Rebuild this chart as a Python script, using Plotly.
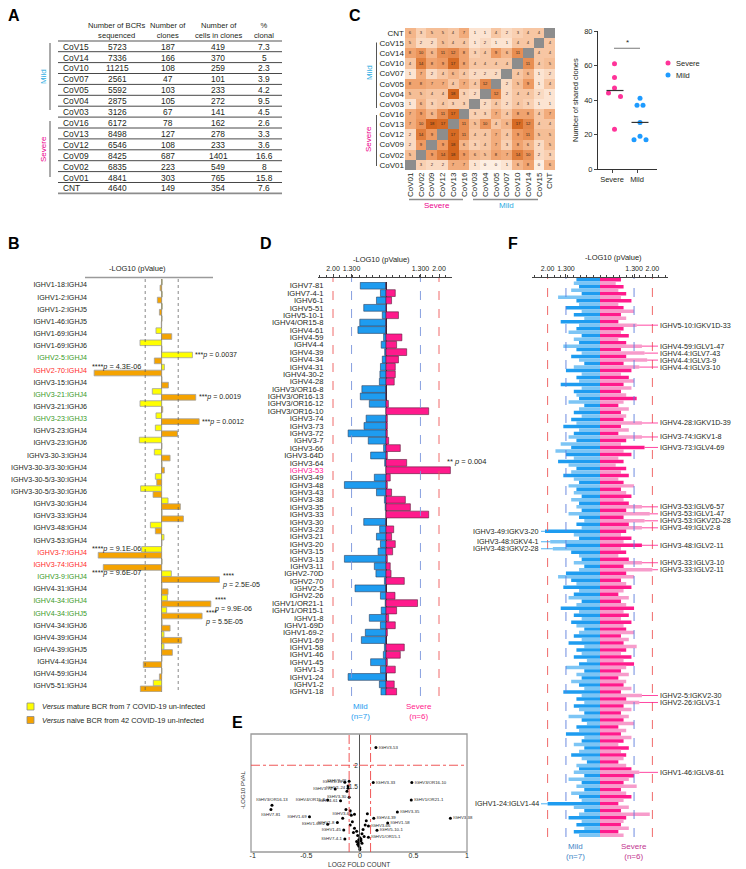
import numpy as np
import plotly.graph_objects as go

# the page adds an 8px body margin, so the figure is drawn 8px smaller and
# reference pixel positions are shifted by that margin
PAGE_W, PAGE_H, PAD = 746, 869, 8
W, H = PAGE_W - PAD, PAGE_H - PAD
FONT = "Liberation Sans, Arial, sans-serif"
INK = "#231f20"
MILD_TXT = "#29abe2"
SEVERE_TXT = "#ec008c"
BLUE = "#1e9cf0"
PINK = "#ff1a8c"

# ---------------- A : table ----------------
a_patients = ["CoV15", "CoV14", "CoV10", "CoV07", "CoV05", "CoV04", "CoV03",
              "CoV16", "CoV13", "CoV12", "CoV09", "CoV02", "CoV01", "CNT"]
a_bcrs = [5723, 7336, 11215, 2561, 5592, 2875, 3126, 6172, 8498, 6546, 8425, 6835, 4841, 4640]
a_clones = [187, 166, 108, 47, 103, 105, 67, 78, 127, 108, 687, 223, 303, 149]
a_cells = [419, 370, 259, 101, 233, 272, 141, 162, 278, 233, 1401, 549, 765, 354]
a_pct = ["7.3", "5", "2.3", "3.9", "4.2", "9.5", "4.5", "2.6", "3.3", "3.6", "16.6", "8", "15.8", "7.6"]
a_headers = ["Number of BCRs<br>sequenced", "Number of<br>clones",
             "Number of<br>cells in clones", "%<br>clonal"]

# ---------------- B : IGHV:IGHJ usage ----------------
b_labels = ["IGHV1-18:IGHJ4", "IGHV1-2:IGHJ4", "IGHV1-2:IGHJ5", "IGHV1-46:IGHJ5",
            "IGHV1-69:IGHJ4", "IGHV1-69:IGHJ6", "IGHV2-5:IGHJ4", "IGHV2-70:IGHJ4",
            "IGHV3-15:IGHJ4", "IGHV3-21:IGHJ4", "IGHV3-21:IGHJ6", "IGHV3-23:IGHJ3",
            "IGHV3-23:IGHJ4", "IGHV3-23:IGHJ6", "IGHV3-30-3:IGHJ4", "IGHV3-30-3/3-30:IGHJ4",
            "IGHV3-30-5/3-30:IGHJ4", "IGHV3-30-5/3-30:IGHJ6", "IGHV3-30:IGHJ4", "IGHV3-33:IGHJ4",
            "IGHV3-48:IGHJ4", "IGHV3-53:IGHJ4", "IGHV3-7:IGHJ4", "IGHV3-74:IGHJ4",
            "IGHV3-9:IGHJ4", "IGHV4-31:IGHJ4", "IGHV4-34:IGHJ4", "IGHV4-34:IGHJ5",
            "IGHV4-34:IGHJ6", "IGHV4-39:IGHJ4", "IGHV4-39:IGHJ5", "IGHV4-4:IGHJ4",
            "IGHV4-59:IGHJ4", "IGHV5-51:IGHJ4"]
b_green = ["IGHV2-5:IGHJ4", "IGHV3-21:IGHJ4", "IGHV3-23:IGHJ3", "IGHV3-9:IGHJ4",
           "IGHV4-34:IGHJ4", "IGHV4-34:IGHJ5"]
b_red = ["IGHV2-70:IGHJ4", "IGHV3-7:IGHJ4", "IGHV3-74:IGHJ4"]
b_mature = [0.05, 0.05, 0.05, 0.03, -0.45, -1.71, 2.42, 0.21, 0.02, -0.74,
            -1.71, -0.45, -0.5, -1.76, -0.58, 0.03, -0.5, -1.66, 0.5, 0.03,
            -0.89, 0.18, -1.58, 0.03, 0.76, 0.02, 0.45, 0.39, 0.03, 0.18,
            0.18, 0.02, 0.02, -0.66]
b_naive = [-0.13, -0.34, -0.18, -0.03, 0.79, 0.02, -0.58, -5.32, 0.53, 2.68,
           0.08, 2.95, 1.24, 0.02, 0.66, 0.21, -0.39, -0.68, 1.47, 1.71,
           -0.5, 0.02, -5.0, -4.6, 4.55, 0.5, 3.87, 3.18, 0.66, 1.58,
           0.84, -1.45, -0.18, -1.68]
# significance notes
b_sig_right = [("IGHV2-5:IGHJ4", "mature", "***<i>p</i> = 0.0037"),
               ("IGHV3-21:IGHJ4", "naive", "***<i>p</i> = 0.0019"),
               ("IGHV3-23:IGHJ3", "naive", "***<i>p</i> = 0.0012"),
               ("IGHV3-9:IGHJ4", "naive", "****<br><i>p</i> = 2.5E-05"),
               ("IGHV4-34:IGHJ4", "naive", "****<br><i>p</i> = 9.9E-06"),
               ("IGHV4-34:IGHJ5", "naive", "****<br><i>p</i> = 5.5E-05")]
b_sig_left = [("IGHV2-70:IGHJ4", "****<i>p</i> = 4.3E-06"),
              ("IGHV3-7:IGHJ4", "****<i>p</i> = 9.1E-06"),
              ("IGHV3-9:IGHJ4", "****<i>p</i> = 9.6E-07")]

# ---------------- C : shared clones ----------------
c_rows = ["CNT", "CoV15", "CoV14", "CoV10", "CoV07", "CoV05", "CoV04", "CoV03",
          "CoV16", "CoV13", "CoV12", "CoV09", "CoV02", "CoV01"]
c_cols = ["CoV01", "CoV02", "CoV09", "CoV12", "CoV13", "CoV16", "CoV03", "CoV04",
          "CoV05", "CoV07", "CoV10", "CoV14", "CoV15", "CNT"]
c_shared = [
    [6, 3, 5, 5, 4, 7, 1, 1, 4, 2, 3, 4, 4, None],
    [5, 2, 2, 5, 4, 4, 1, 2, 1, 1, 4, 4, None, 4],
    [8, 10, 6, 11, 12, 8, 3, 4, 9, 6, 11, None, 4, 4],
    [4, 14, 8, 9, 17, 8, 4, 4, 4, 4, None, 11, 4, 5],
    [1, 7, 2, 4, 6, 4, 2, 2, 2, None, 4, 6, 1, 2],
    [8, 8, 7, 7, 4, 7, 4, 12, None, 2, 5, 9, 1, 4],
    [5, 5, 4, 4, 18, 3, 2, None, 12, 2, 4, 4, 2, 1],
    [1, 6, 3, 4, 3, 3, None, 2, 4, 2, 4, 3, 1, 1],
    [7, 9, 6, 11, 17, None, 3, 3, 7, 4, 8, 8, 4, 7],
    [7, 10, 18, 17, None, 11, 5, 10, 4, 6, 17, 12, 4, 4],
    [2, 14, 9, None, 17, 11, 4, 4, 7, 4, 9, 11, 5, 5],
    [2, 9, None, 9, 18, 6, 3, 4, 7, 3, 8, 6, 2, 5],
    [5, None, 9, 14, 18, 9, 6, 5, 8, 7, 14, 10, 2, 3],
    [None, 3, 2, 2, 7, 7, 1, 0, 0, 1, 6, 8, 0, 6],
]
c_severe_shared = [61, 53, 47, 44, 42, 23]
c_severe_jitter = [0.1, 0.1, 0.1, -0.14, 0.34, 0.1]
c_mild_shared = [41, 37, 37, 27, 19, 17, 17]
c_mild_jitter = [0.12, 0.0, 0.24, 0.12, 0.12, -0.12, 0.36]

# ---------------- D : IGHV usage mild vs severe ----------------
d_genes = ["IGHV7-81", "IGHV7-4-1", "IGHV6-1", "IGHV5-51", "IGHV5-10-1", "IGHV4/OR15-8",
           "IGHV4-61", "IGHV4-59", "IGHV4-4", "IGHV4-39", "IGHV4-34", "IGHV4-31",
           "IGHV4-30-2", "IGHV4-28", "IGHV3/OR16-8", "IGHV3/OR16-13", "IGHV3/OR16-12",
           "IGHV3/OR16-10", "IGHV3-74", "IGHV3-73", "IGHV3-72", "IGHV3-7", "IGHV3-66",
           "IGHV3-64D", "IGHV3-64", "IGHV3-53", "IGHV3-49", "IGHV3-48", "IGHV3-43",
           "IGHV3-38", "IGHV3-35", "IGHV3-33", "IGHV3-30", "IGHV3-23", "IGHV3-21",
           "IGHV3-20", "IGHV3-15", "IGHV3-13", "IGHV3-11", "IGHV2-70D", "IGHV2-70",
           "IGHV2-5", "IGHV2-26", "IGHV1/OR21-1", "IGHV1/OR15-1", "IGHV1-8", "IGHV1-69D",
           "IGHV1-69-2", "IGHV1-69", "IGHV1-58", "IGHV1-46", "IGHV1-45", "IGHV1-3",
           "IGHV1-24", "IGHV1-2", "IGHV1-18"]
d_mild = [0.97, 0.21, 0.36, 0.84, 0.14, 0.99, 1.06, 0.09, 0.18, 0.05,
          0.14, 0.21, 0.23, 0.25, 0.91, 0.97, 0.63, 0.0, 0.75, 0.83,
          1.43, 0.67, 0.09, 0.58, 0.05, 0.0, 0.44, 1.57, 0.36, 0.06,
          0.03, 0.0, 0.84, 0.24, 0.36, 0.21, 0.30, 1.57, 0.44, 0.38,
          0.06, 1.17, 0.21, 0.03, 0.18, 0.63, 0.21, 0.78, 0.93, 0.06,
          0.10, 0.58, 0.21, 1.43, 0.25, 0.19]
d_severe = [0.0, 0.35, 0.21, 0.02, 0.47, 0.0, 0.0, 0.60, 0.40, 0.78,
            0.47, 0.35, 0.35, 0.31, 0.0, 0.0, 0.09, 1.61, 0.05, 0.05,
            0.05, 0.10, 0.54, 0.05, 0.78, 2.43, 0.16, 0.05, 0.21, 0.73,
            0.92, 1.61, 0.0, 0.29, 0.21, 0.35, 0.25, 0.05, 0.16, 0.19,
            0.69, 0.0, 0.34, 1.19, 0.40, 0.10, 0.35, 0.05, 0.0, 0.69,
            0.54, 0.05, 0.35, 0.0, 0.31, 0.40]
d_highlight = "IGHV3-53"

# ---------------- E : volcano ----------------
e_genes = ["IGHV3-53", "IGHV3-13", "IGHV3-48", "IGHV3-72", "IGHV1-24", "IGHV3-33",
           "IGHV3/OR16-10", "IGHV3-30", "IGHV1/OR21-1", "IGHV4/OR15-8", "IGHV4-61",
           "IGHV3/OR16-13", "IGHV7-81", "IGHV3-35", "IGHV3-38", "IGHV1-69", "IGHV1-8",
           "IGHV1-69-2", "IGHV3-64", "IGHV4-39", "IGHV1-58", "IGHV3-66", "IGHV5-10-1",
           "IGHV1-45", "IGHV7-4-1", "IGHV1/OR15-1",
           "IGHV3-74", "IGHV3-73", "IGHV3-7", "IGHV4-59", "IGHV2-70", "IGHV3-49",
           "IGHV3-43", "IGHV2-5", "IGHV5-51", "IGHV1-46", "IGHV4-4", "IGHV4-34",
           "IGHV4-31", "IGHV4-30-2", "IGHV4-28", "IGHV3/OR16-8", "IGHV3/OR16-12",
           "IGHV3-64D", "IGHV3-23", "IGHV3-21", "IGHV3-20", "IGHV3-15", "IGHV3-11",
           "IGHV2-70D", "IGHV2-26", "IGHV1-69D", "IGHV1-3", "IGHV1-2", "IGHV1-18", "IGHV6-1"]
e_fold = [0.15, -0.14, -0.10, -0.23, -0.11, 0.125, 0.485, -0.10, 0.48, -0.30, -0.18,
          -0.82, -0.83, 0.35, 0.845, -0.47, -0.21, -0.30, -0.05, 0.13, 0.26, 0.08,
          0.16, -0.15, -0.14, 0.08,
          -0.11, -0.12, -0.16, 0.07, 0.06, -0.05, -0.06, -0.09, -0.08, 0.05, 0.03,
          0.02, -0.02, 0.0, -0.01, -0.13, -0.07, -0.09, -0.01, -0.02, 0.01, -0.01,
          0.0, -0.03, 0.04, 0.01, 0.02, -0.01, 0.0, -0.03]
e_pval = [2.41, 1.61, 1.63, 1.45, 1.47, 1.60, 1.60, 1.26, 1.20, 1.20, 1.18,
          1.08, 0.98, 0.92, 0.78, 0.81, 0.68, 0.64, 0.87, 0.78, 0.67, 0.60,
          0.50, 0.51, 0.30, 0.34,
          1.52, 1.40, 0.78, 0.88, 0.72, 0.55, 0.45, 0.95, 0.85, 0.62, 0.52,
          0.42, 0.38, 0.33, 0.28, 0.98, 0.70, 0.62, 0.22, 0.18, 0.26, 0.14,
          0.10, 0.48, 0.36, 0.30, 0.20, 0.16, 0.06, 0.24]
e_labeled = e_genes[:26]

# ---------------- F : IGHV:IGK/LV usage ----------------
f_mild = [0.9, 1.0, 0.8, 1.1, 0.7, 1.6, 0.9, 0.8, 1.3, 0.7, 1.0, 0.6, 1.5, 0.8, 0.9, 1.2, 0.7, 1.0, 0.8, 1.4,
          0.9, 0.7, 1.1, 0.8, 0.6, 1.0, 1.3, 0.7, 0.9, 0.8, 1.5, 0.7, 1.0, 0.9, 0.8, 1.2, 0.6, 0.8, 1.0, 0.7,
          1.1, 0.9, 1.4, 0.8, 1.0, 1.2, 0.9, 1.5, 1.1, 1.7, 1.3, 1.0, 1.6, 1.2, 0.9, 1.1, 1.4, 1.0, 0.8, 1.2,
          0.9, 1.0, 0.7, 1.1, 0.8, 0.9, 0.7, 1.2, 0.8, 0.6, 0.9, 0.7, 2.1, 1.0, 0.8, 1.9, 1.3, 1.8, 1.1, 0.8,
          0.7, 1.0, 0.6, 0.8, 1.3, 1.6, 1.1, 0.9, 1.4, 0.8, 1.0, 1.2, 0.7, 0.9, 1.5, 0.8, 1.0, 0.7, 1.1, 0.9,
          0.6, 0.8, 1.0, 0.7, 1.2, 0.6, 0.9, 0.7, 1.0, 0.5, 0.8, 1.3, 0.6, 0.9, 0.7, 1.1, 0.8, 0.6, 1.4, 0.7,
          0.9, 0.6, 1.0, 0.8, 0.6, 1.2, 0.7, 0.5, 0.9, 0.8, 1.3, 0.6, 0.7, 1.0, 0.6, 0.8, 1.1, 0.7, 0.5, 0.9,
          0.8, 1.0, 0.6, 1.2, 0.7, 0.9, 0.6, 1.1, 0.8, 0.7, 2.0, 1.0, 0.6, 0.8, 1.2, 0.7, 0.9, 0.6, 1.0, 0.8]
f_severe = [0.8, 0.6, 0.9, 0.7, 1.0, 0.8, 1.2, 0.7, 0.9, 1.3, 0.8, 1.0, 0.7, 1.4, 0.9, 0.8, 1.1, 0.7, 1.0, 1.6,
            0.8, 1.7, 1.0, 1.8, 0.9, 1.5, 1.2, 0.8, 1.1, 1.3, 0.9, 1.2, 0.8, 1.0, 1.4, 0.9, 0.7, 1.1, 0.8, 1.0,
            0.9, 1.6, 0.8, 1.1, 0.7, 1.6, 1.0, 0.8, 1.7, 0.9, 1.2, 0.7, 0.9, 0.6, 1.0, 0.8, 1.1, 0.7, 0.9, 1.3,
            0.8, 1.0, 1.2, 0.9, 1.1, 1.6, 1.0, 1.9, 0.9, 1.7, 1.1, 1.6, 1.0, 0.8, 1.2, 0.9, 1.6, 0.8, 1.0, 0.7,
            1.1, 1.6, 0.9, 2.0, 1.0, 1.3, 0.8, 1.0, 1.2, 0.9, 0.7, 1.1, 0.8, 1.0, 1.3, 0.9, 1.1, 0.8, 1.2, 0.9,
            1.0, 1.3, 0.8, 1.1, 0.9, 1.4, 1.0, 0.8, 1.2, 0.9, 1.3, 1.0, 0.8, 1.1, 0.7, 1.0, 0.9, 1.2, 0.8, 1.6,
            1.0, 1.5, 0.9, 1.2, 0.8, 1.1, 0.9, 1.3, 0.7, 1.0, 0.8, 1.2, 0.9, 0.7, 1.1, 0.8, 1.0, 0.9, 0.7, 1.0,
            1.2, 1.5, 1.3, 1.1, 0.9, 1.4, 0.8, 1.0, 1.2, 0.9, 0.7, 1.1, 0.8, 1.9, 1.0, 0.9, 0.8, 1.1, 0.7, 0.9]
f_labels_severe = [("IGHV5-10:IGKV1D-33", 13), ("IGHV4-59:IGLV1-47", 19), ("IGHV4-4:IGLV7-43", 21),
                   ("IGHV4-4:IGLV3-9", 23), ("IGHV4-4:IGLV3-10", 25), ("IGHV4-28:IGKV1D-39", 41),
                   ("IGHV3-74:IGKV1-8", 45), ("IGHV3-73:IGLV4-69", 48), ("IGHV3-53:IGLV6-57", 65),
                   ("IGHV3-53:IGLV1-47", 67), ("IGHV3-53:IGKV2D-28", 69), ("IGHV3-49:IGLV2-8", 71),
                   ("IGHV3-48:IGLV2-11", 76), ("IGHV3-33:IGLV3-10", 81), ("IGHV3-33:IGLV2-11", 83),
                   ("IGHV2-5:IGKV2-30", 119), ("IGHV2-26:IGLV3-1", 121), ("IGHV1-46:IGLV8-61", 141)]
f_labels_mild = [("IGHV3-49:IGKV3-20", 72), ("IGHV3-48:IGKV4-1", 75),
                 ("IGHV3-48:IGKV2-28", 77), ("IGHV1-24:IGLV1-44", 150)]


def fx(p):
    return (p - PAD) / W


def fy(p):
    return 1 - (p - PAD) / H


ann = []
shp = []


def text(x, y, s, size=8, color=INK, xanchor="center", yanchor="middle", **kw):
    ann.append(dict(x=fx(x), y=fy(y), xref="paper", yref="paper", text=s, showarrow=False,
                    font=dict(family=FONT, size=size, color=color),
                    xanchor=xanchor, yanchor=yanchor, **kw))


def line(x0, y0, x1, y1, color, width=1.0, dash=None):
    shp.append(dict(type="line", xref="paper", yref="paper", x0=fx(x0), y0=fy(y0),
                    x1=fx(x1), y1=fy(y1), line=dict(color=color, width=width, dash=dash)))


def blank(**kw):
    d = dict(showgrid=False, zeroline=False, showline=False, ticks="", automargin=False)
    d.update(kw)
    return d


fig = go.Figure()

# ---- panel letters
for letter, x, y in [("A", 14, 15), ("B", 14, 244), ("C", 355, 15), ("D", 266, 244),
                     ("E", 237, 722), ("F", 513, 244)]:
    text(x, y, "<b>%s</b>" % letter, 16, "black")

# ---- A table
col_x = [117, 168, 218, 264]
for cx, h in zip(col_x, a_headers):
    text(cx, 30, h, 7.6)
line(58, 41, 282, 41, "#8c8c8c", 1.6)
for i, p in enumerate(a_patients):
    y = 46.7 + i * 10.9
    text(61, y, p, 8.4, xanchor="left")
    for cx, v in zip(col_x, [a_bcrs[i], a_clones[i], a_cells[i], a_pct[i]]):
        text(cx, y, str(v), 8.4)
    last = i == len(a_patients) - 1
    line(58, y + 5, 282, y + 5, "#8c8c8c" if last else "#333333", 1.6 if last else 0.9)
line(50, 43, 50, 110, "#555555", 1)
line(50, 121, 50, 177, "#555555", 1)
text(43, 77, "Mild", 8, MILD_TXT, textangle=-90)
text(43, 149, "Severe", 8, SEVERE_TXT, textangle=-90)

# ---- B bars
b_zero, b_unit = 161.7, 12.7
b_y = np.arange(len(b_labels))


def b_tick(lbl):
    if lbl in b_green:
        return "<span style='color:#3a9a1f'>%s</span>" % lbl
    if lbl in b_red:
        return "<span style='color:#ff2a2a'>%s</span>" % lbl
    return lbl


fig.add_trace(go.Bar(x=b_mature, y=b_y, orientation="h", offset=-0.47, width=0.46,
                     marker=dict(color="#ffff00", line=dict(color="#a0a0a0", width=0.8)),
                     xaxis="x", yaxis="y", showlegend=False))
fig.add_trace(go.Bar(x=b_naive, y=b_y, orientation="h", offset=0.01, width=0.47,
                     marker=dict(color="#f5a300", line=dict(color="#a0a0a0", width=0.8)),
                     xaxis="x", yaxis="y", showlegend=False))
text(137, 269, "-LOG10 (pValue)", 7.5)
line(85, 277.5, 213, 277.5, "#9a9a9a", 1.5)
for v in (-1.3, 1.3):
    shp.append(dict(type="line", xref="x", yref="paper", x0=v, x1=v, y0=fy(690), y1=fy(279),
                    line=dict(color="#555555", width=0.7, dash="dot")))
for lbl, series, s in b_sig_right:
    i = b_labels.index(lbl)
    v = (b_mature if series == "mature" else b_naive)[i]
    two = "<br>" in s
    ann.append(dict(x=v, y=i, xref="x", yref="y", text=s, showarrow=False, xanchor="left",
                    align="left", xshift=1, yshift=(3 if series == "mature" else -3) - (1 if two else 0),
                    font=dict(family=FONT, size=7.1, color=INK)))
for lbl, s in b_sig_left:
    i = b_labels.index(lbl)
    ann.append(dict(x=-1.5, y=i, xref="x", yref="y", text=s, showarrow=False, xanchor="right",
                    yshift=4, font=dict(family=FONT, size=7.3, color=INK)))
shp.append(dict(type="rect", xref="paper", yref="paper", x0=fx(27), x1=fx(34), y0=fy(710), y1=fy(703),
                fillcolor="#ffff00", line=dict(color="#8c8c8c", width=0.8)))
shp.append(dict(type="rect", xref="paper", yref="paper", x0=fx(27), x1=fx(34), y0=fy(723.5), y1=fy(716.5),
                fillcolor="#f5a300", line=dict(color="#8c8c8c", width=0.8)))
text(40, 706.5, "<i>Versus</i> mature BCR from 7 COVID-19 un-infected", 7.4, xanchor="left")
text(40, 720, "<i>Versus</i> naive BCR from 42 COVID-19 un-infected", 7.4, xanchor="left")

# ---- C heatmap
fig.add_trace(go.Heatmap(z=c_shared, x=c_cols, y=c_rows, xaxis="x2", yaxis="y2",
                         colorscale=[[0, "#fdeee2"], [0.2, "#f8caa8"], [0.5, "#ee9a62"], [1, "#d4651c"]],
                         zmin=0, zmax=18, showscale=False, texttemplate="%{z}",
                         textfont=dict(size=4.2, color="#3b2414"), hoverinfo="skip"))
c_self = [[1 if c == r else None for c in c_cols] for r in c_rows]
fig.add_trace(go.Heatmap(z=c_self, x=c_cols, y=c_rows, xaxis="x2", yaxis="y2",
                         colorscale=[[0, "#8d8d8d"], [1, "#8d8d8d"]], showscale=False, hoverinfo="skip"))
line(376.5, 42.5, 376.5, 108, "#555555", 1)
line(376.5, 115, 376.5, 166, "#555555", 1)
text(369, 73, "Mild", 8, MILD_TXT, textangle=-90)
text(369, 139, "Severe", 8, SEVERE_TXT, textangle=-90)
line(409, 199.5, 463, 199.5, "#8c8c8c", 1.5)
line(473, 199.5, 538, 199.5, "#8c8c8c", 1.5)
text(437, 205, "Severe", 8, SEVERE_TXT)
text(506, 205, "Mild", 8, MILD_TXT)

# ---- C scatter
sev_x = [0 + j for j in c_severe_jitter]
mild_x = [1 + j for j in c_mild_jitter]
fig.add_trace(go.Scatter(x=sev_x, y=c_severe_shared, mode="markers", xaxis="x3", yaxis="y3",
                         marker=dict(size=5, color="#ff3399"), showlegend=False, cliponaxis=False))
fig.add_trace(go.Scatter(x=mild_x, y=c_mild_shared, mode="markers", xaxis="x3", yaxis="y3",
                         marker=dict(size=5, color="#1e9bff"), showlegend=False, cliponaxis=False))
for g, vals in [(0, c_severe_shared), (1, c_mild_shared)]:
    med = float(np.median(vals))
    fig.add_trace(go.Scatter(x=[g - 0.22, g + 0.46], y=[med, med], mode="lines", xaxis="x3", yaxis="y3",
                             line=dict(color="#333333", width=1.2), showlegend=False, cliponaxis=False))
fig.add_trace(go.Scatter(x=[0.08, 1.12], y=[70, 70], mode="lines", xaxis="x3", yaxis="y3",
                         line=dict(color="#555555", width=0.8), showlegend=False, cliponaxis=False))
ann.append(dict(x=0.6, y=73.5, xref="x3", yref="y3", text="*", showarrow=False,
                font=dict(family=FONT, size=8, color=INK)))
text(575, 100, "Number of shared clones", 7.5, textangle=-90)
for k, (name, col) in enumerate([("Severe", "#ff3399"), ("Mild", "#1e9bff")]):
    cy = 63 + k * 12
    shp.append(dict(type="circle", xref="paper", yref="paper", x0=fx(665.5), x1=fx(670.5),
                    y0=fy(cy + 2.5), y1=fy(cy - 2.5), fillcolor=col, line=dict(width=0)))
    text(674, cy, name, 7.5, xanchor="left")

# ---- D bars
d_zero, d_unit = 386.0, 26.5
d_y = np.arange(len(d_genes))
fig.add_trace(go.Bar(x=[-v for v in d_mild], y=d_y, orientation="h", width=0.92, offset=-0.46,
                     marker=dict(color=BLUE, line=dict(color="#2c3e5c", width=0.6)),
                     xaxis="x4", yaxis="y4", showlegend=False))
fig.add_trace(go.Bar(x=d_severe, y=d_y, orientation="h", width=0.92, offset=-0.46,
                     marker=dict(color=PINK, line=dict(color="#5a1f3c", width=0.6)),
                     xaxis="x4", yaxis="y4", showlegend=False))
d_ticks = ["<span style='color:#ff1493'>%s</span>" % g if g == d_highlight else g for g in d_genes]
for v, c in [(-2, "#ee5a5a"), (-1.3, "#7a95dd"), (1.3, "#7a95dd"), (2, "#ee5a5a")]:
    shp.append(dict(type="line", xref="x4", yref="paper", x0=v, x1=v, y0=fy(696), y1=fy(278),
                    line=dict(color=c, width=0.9, dash="dash")))
hi = d_genes.index(d_highlight)
ann.append(dict(x=d_severe[hi], y=hi, xref="x4", yref="y4", text="** <i>p</i> = 0.004", showarrow=False,
                xanchor="left", xshift=-5, yshift=9, font=dict(family=FONT, size=7.5, color=INK)))
text(381, 259, "-LOG10 (pValue)", 7.5)
text(360, 711, "Mild<br>(n=7)", 8, BLUE)
text(419, 711, "Severe<br>(n=6)", 8, PINK)

# ---- E volcano
e_text = [g if g in e_labeled else "" for g in e_genes]
e_pos = []
for xv, yv in zip(e_fold, e_pval):
    if xv < -0.6:
        e_pos.append("top center" if yv > 1.02 else "bottom center")
    else:
        e_pos.append("middle right" if xv >= 0 else "middle left")
fig.add_trace(go.Scatter(x=e_fold, y=e_pval, mode="markers+text", text=e_text, textposition=e_pos,
                         textfont=dict(family=FONT, size=4.3, color="#222222"),
                         marker=dict(size=3, color="black"), xaxis="x5", yaxis="y5",
                         showlegend=False, cliponaxis=False))
shp.append(dict(type="rect", xref="paper", yref="paper", x0=fx(251), x1=fx(467), y0=fy(852), y1=fy(734),
                line=dict(color="#9a9a9a", width=1.3)))
for v in (-0.1, 0.1):
    shp.append(dict(type="line", xref="x5", yref="paper", x0=v, x1=v, y0=fy(852), y1=fy(734),
                    line=dict(color="#ee4444", width=0.9, dash="dashdot")))
shp.append(dict(type="line", xref="paper", yref="y5", x0=fx(251), x1=fx(467), y0=2, y1=2,
                line=dict(color="#ee4444", width=0.9, dash="dashdot")))
text(359, 864, "LOG2 FOLD COUNT", 6.6, "#333333")
text(243, 790, "-LOG10 PVAL", 6, "#333333", textangle=-90)

# ---- F bars
f_zero, f_unit = 600.0, 26.2
f_y = np.arange(len(f_mild))
fig.add_trace(go.Bar(x=[-v for v in f_mild], y=f_y, orientation="h", width=1.0, offset=-0.5,
                     marker=dict(color=[BLUE if i % 2 == 0 else "#7cc5f5" for i in f_y], line=dict(width=0)),
                     xaxis="x6", yaxis="y6", showlegend=False))
fig.add_trace(go.Bar(x=f_severe, y=f_y, orientation="h", width=1.0, offset=-0.5,
                     marker=dict(color=[PINK if i % 2 == 0 else "#f79ccb" for i in f_y], line=dict(width=0)),
                     xaxis="x6", yaxis="y6", showlegend=False))
for v, c in [(-2, "#ee5a5a"), (-1.3, "#5d7fdc"), (1.3, "#5d7fdc"), (2, "#ee5a5a")]:
    shp.append(dict(type="line", xref="x6", yref="paper", x0=v, x1=v, y0=fy(837), y1=fy(278),
                    line=dict(color=c, width=0.9, dash="dash")))
for name, row in f_labels_severe:
    v = f_severe[row]
    ann.append(dict(x=v, y=row, xref="x6", yref="y6", text=name, showarrow=True, arrowhead=0,
                    arrowwidth=0.8, arrowcolor=PINK, ax=658 - (f_zero + v * f_unit), ay=0,
                    xanchor="left", font=dict(family=FONT, size=7.2, color=INK)))
for name, row in f_labels_mild:
    v = f_mild[row]
    ann.append(dict(x=-v, y=row, xref="x6", yref="y6", text=name, showarrow=True, arrowhead=0,
                    arrowwidth=0.8, arrowcolor=BLUE, ax=541 - (f_zero - v * f_unit), ay=0,
                    xanchor="right", font=dict(family=FONT, size=7.2, color=INK)))
text(613, 257, "-LOG10 (pValue)", 7.5)
text(575, 851, "Mild<br>(n=7)", 8, "#3f86c6")
text(634, 851, "Severe<br>(n=6)", 8, "#c2358f")

top_axis = dict(side="top", anchor="free", showline=True, linecolor="#444444", linewidth=0.8,
                ticks="outside", ticklen=3, tickcolor="#444444", showgrid=False, zeroline=False,
                tickvals=[-2, -1.3, 1.3, 2], ticktext=["2.00", "1.300", "1.300", "2.00"],
                tickfont=dict(size=7, color=INK), automargin=False,
                minor=dict(ticks="outside", ticklen=2, dtick=0.25, tick0=0, tickcolor="#444444"))

fig.update_layout(
    width=W, height=H, margin=dict(l=0, r=0, t=0, b=0), template="none",
    paper_bgcolor="white", plot_bgcolor="white", barmode="overlay", showlegend=False,
    font=dict(family=FONT, size=8, color=INK),
    annotations=ann, shapes=shp,
    # B
    xaxis=blank(domain=[fx(85), fx(250)], range=[(85 - b_zero) / b_unit, (250 - b_zero) / b_unit],
                showticklabels=False, zeroline=True, zerolinecolor="#6b5a3a", zerolinewidth=0.8),
    yaxis=blank(domain=[fy(692.0), fy(278.9)], range=[len(b_labels) - 0.5, -0.5], anchor="free",
                position=fx(87), tickvals=list(b_y), ticktext=[b_tick(l) for l in b_labels],
                tickfont=dict(size=7.1, color=INK)),
    # C heatmap
    xaxis2=blank(domain=[fx(405), fx(555)], anchor="y2", type="category", tickangle=-90,
                 tickfont=dict(size=8, color=INK)),
    yaxis2=blank(domain=[fy(170), fy(28)], anchor="x2", type="category", autorange="reversed",
                 tickfont=dict(size=8, color=INK)),
    # C scatter
    xaxis3=dict(domain=[fx(598), fx(657)], anchor="y3", range=[-0.56, 1.8], showgrid=False,
                zeroline=False, showline=True, linecolor="#333333", linewidth=1, ticks="outside",
                ticklen=3, tickvals=[0, 1], ticktext=["Severe", "Mild"], tickfont=dict(size=7.5),
                automargin=False),
    yaxis3=dict(domain=[fy(169), fy(31)], anchor="x3", range=[0, 80], showgrid=False, zeroline=False,
                showline=True, linecolor="#333333", linewidth=1, ticks="outside", ticklen=3,
                tickvals=[0, 20, 40, 60, 80], tickfont=dict(size=7.5), automargin=False),
    # D
    xaxis4=dict(top_axis, domain=[fx(318), fx(452)], position=fy(277),
                range=[(318 - d_zero) / d_unit, (452 - d_zero) / d_unit],
                zeroline=True, zerolinecolor="#222222", zerolinewidth=1),
    yaxis4=blank(domain=[fy(695.4), fy(282.0)], range=[len(d_genes) - 0.5, -0.5], anchor="free",
                 position=fx(323.5), tickvals=list(d_y), ticktext=d_ticks,
                 tickfont=dict(size=7.6, color=INK)),
    # E
    xaxis5=blank(domain=[fx(252.7), fx(467)], anchor="y5", range=[-1, 1], tickvals=[-1, -0.5, 0, 0.5, 1],
                 ticktext=["-1", "-0.5", "0", "0.5", "1"], tickfont=dict(size=7), ticklabelstandoff=-2),
    yaxis5=blank(domain=[fy(852), fy(734)], anchor="free", position=fx(359.3), range=[0, 2.72],
                 showline=True, linecolor="#555555", linewidth=1.2, tickvals=[1.5, 2],
                 tickfont=dict(size=6.5)),
    # F
    xaxis6=dict(top_axis, domain=[fx(531.7), fx(668)], position=fy(276.7),
                range=[(531.7 - f_zero) / f_unit, (668 - f_zero) / f_unit]),
    yaxis6=blank(domain=[fy(837), fy(278)], range=[len(f_mild) - 0.5, -0.5], anchor="x6",
                 showticklabels=False),
)

fig.write_html("out.html")
